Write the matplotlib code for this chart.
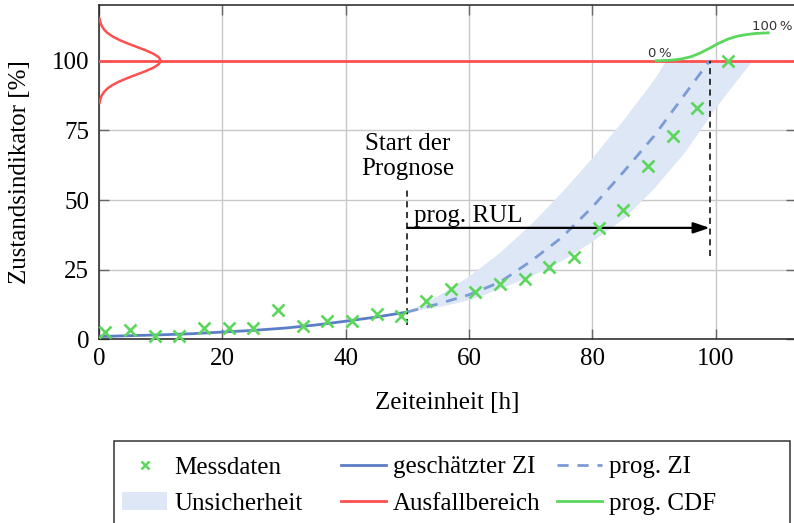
import matplotlib
matplotlib.use("Agg")
import matplotlib.pyplot as plt
from matplotlib.lines import Line2D
from matplotlib.patches import Patch, Rectangle

plt.rcParams['font.family'] = ['Liberation Serif', 'DejaVu Serif']
FS = 18

# ---- data ----
mess_x = [1, 5, 9, 13, 17, 21, 25, 29, 33, 37, 41, 45, 49, 53, 57, 61, 65, 69, 73, 77, 81, 85, 89, 93, 97, 102]
mess_y = [2.5, 3.5, 1.2, 1.2, 4.1, 4.1, 4.2, 10.4, 4.7, 6.5, 6.7, 9.2, 8.4, 13.8, 18.2, 16.8, 19.8, 21.7, 26.0, 29.7,
          40.0, 46.4, 62.2, 73.0, 82.9, 100.0]

est_x = [0, 5, 10, 15, 20, 25, 30, 35, 40, 45, 50]
est_y = [1.0, 1.3, 1.6, 2.0, 2.6, 3.2, 4.0, 5.1, 6.5, 8.0, 9.8]

prog_x = [50, 55, 60, 65, 70, 75, 80, 85, 90, 95, 99]
prog_y = [9.8, 12.7, 16.0, 20.5, 28.0, 36.5, 47.5, 60.0, 73.0, 88.0, 100.0]

band_up_x = [50, 55, 60, 65, 70, 75, 80, 85, 90, 92]
band_up_y = [9.8, 15.5, 22.5, 31.0, 41.0, 52.5, 65.0, 78.5, 93.0, 100.0]
band_lo_x = [50, 55, 60, 65, 70, 75, 80, 85, 90, 95, 100, 106]
band_lo_y = [9.8, 11.5, 14.0, 18.0, 22.5, 28.0, 35.0, 43.0, 54.0, 67.0, 83.0, 100.0]

# failure-threshold pdf (left side): y level and horizontal extent
pdf_y = [85, 86.25, 87.5, 88.75, 90, 91.25, 92.5, 93.75, 95, 96.25, 97.5, 98.75, 100,
         101.25, 102.5, 103.75, 105, 106.25, 107.5, 108.75, 110, 111.25, 112.5, 113.75, 115]
pdf_w = [0.11, 0.23, 0.44, 0.80, 1.35, 2.16, 3.25, 4.58, 6.07, 7.55, 8.82, 9.69, 10.0,
         9.69, 8.82, 7.55, 6.07, 4.58, 3.25, 2.16, 1.35, 0.80, 0.44, 0.23, 0.11]

# predicted CDF on top
cdf_x = [90.3, 91.5, 93.0, 94.5, 96.0, 97.5, 99.0, 100.5, 102.0, 103.5, 105.0, 106.5, 108.5]
cdf_y = [100.0, 100.06, 100.23, 100.67, 101.45, 102.8, 104.5, 106.3, 107.8, 108.8, 109.4, 109.8, 110.0]

threshold = 100
t_start = 50
t_eol = 99
rul_level = 40

x_ticks = [0, 20, 40, 60, 80, 100]
y_ticks = [0, 25, 50, 75, 100]

# ---- colours ----
c_green = '#5cd65c'
c_blue = '#5b7fc7'
c_blue_d = '#7b9bd6'
c_band = '#dde7f5'
c_red = '#ff5050'
c_grid = '#c8c8c8'

W, H = 794, 523
fig = plt.figure(figsize=(W / 100, H / 100), dpi=100)
ax_l, ax_r, ax_t, ax_b = 99, 796, 5, 339.3
ax = fig.add_axes([ax_l / W, (H - ax_b) / H, (ax_r - ax_l) / W, (ax_b - ax_t) / H])
ax.set_xlim(0, 113)
ax.set_ylim(0, 120)

ax.set_xticks(x_ticks)
ax.set_yticks(y_ticks)
ax.grid(True, color=c_grid, lw=1)
ax.set_axisbelow(True)
ax.tick_params(direction='in', length=7, width=1, color='#666666', top=True, right=True,
               labelsize=FS, pad=7)
ax.tick_params(axis='x', pad=6)
for s in ax.spines.values():
    s.set_linewidth(1.1)
    s.set_color('#222222')

# uncertainty band
poly_x = list(band_up_x) + list(reversed(band_lo_x))
poly_y = list(band_up_y) + list(reversed(band_lo_y))
ax.fill(poly_x, poly_y, color=c_band, lw=0, zorder=1)

ax.axhline(threshold, color=c_red, lw=2, zorder=3)
ax.plot(pdf_w, pdf_y, color=c_red, lw=1.8, zorder=3)

ax.plot(est_x, est_y, color=c_blue, lw=2, zorder=4)
ax.plot(prog_x, prog_y, color=c_blue_d, lw=2, dashes=(4, 3.2), zorder=4)

ax.plot(cdf_x, cdf_y, color=c_green, lw=2, zorder=4)
ax.text(91.0, 101.3, '0\u2009%', family='DejaVu Sans', fontsize=9.5, color='#333333',
        ha='center', va='baseline')
ax.text(109.1, 111.1, '100\u2009%', family='DejaVu Sans', fontsize=9.5, color='#333333',
        ha='center', va='baseline')

ax.plot([t_start, t_start], [5, 53.5], color='black', lw=1.1, dashes=(4, 3), zorder=5)
ax.plot([t_eol, t_eol], [30, 100], color='black', lw=1.1, dashes=(4, 3), zorder=5)
ax.annotate('', xy=(t_eol, rul_level), xytext=(t_start, rul_level),
            arrowprops=dict(arrowstyle='-|>,head_length=0.65,head_width=0.22', color='black',
                            lw=1.6, mutation_scale=15, shrinkA=0, shrinkB=0), zorder=6)
ax.text(51.0, 42.0, 'prog. RUL', fontsize=FS, ha='left', va='baseline')
ax.text(50.0, 65.7, 'Start der\nPrognose', fontsize=FS, ha='center', va='center',
        multialignment='center', linespacing=1.15)

ax.plot(mess_x, mess_y, ls='none', marker='x', ms=8, mew=1.9, color=c_green, zorder=7, clip_on=False)

ax.set_xlabel('Zeiteinheit [h]', fontsize=FS)
ax.set_ylabel('Zustandsindikator [%]', fontsize=FS)
ax.xaxis.set_label_coords(0.5, -0.157)
ax.yaxis.set_label_coords(-0.098, 0.5)

# ---- legend ----
fig.patches.append(Rectangle((114 / W, -0.3), (790 - 114) / W, (H - 440.7) / H + 0.3,
                             transform=fig.transFigure, fill=False, ec='#333333', lw=1.1))
cols = [
    ([Line2D([], [], ls='none', marker='x', ms=6, mew=1.8, color=c_green),
      Patch(facecolor=c_band, edgecolor='none')], ['Messdaten', 'Unsicherheit'], 122),
    ([Line2D([], [], color=c_blue, lw=2), Line2D([], [], color=c_red, lw=2)],
     ['geschätzter ZI', 'Ausfallbereich'], 341),
    ([Line2D([], [], color=c_blue_d, lw=2, dashes=(4, 3.2)), Line2D([], [], color=c_green, lw=2)],
     ['prog. ZI', 'prog. CDF'], 557),
]
for handles, labels, x0 in cols:
    fig.legend(handles, labels, loc='upper left', bbox_to_anchor=(x0 / W, (H - 456) / H),
               frameon=False, fontsize=FS, handlelength=1.8, handletextpad=0.28,
               borderpad=0, borderaxespad=0, labelspacing=0.55, handleheight=0.7)

fig.savefig('out.png', dpi=100)
